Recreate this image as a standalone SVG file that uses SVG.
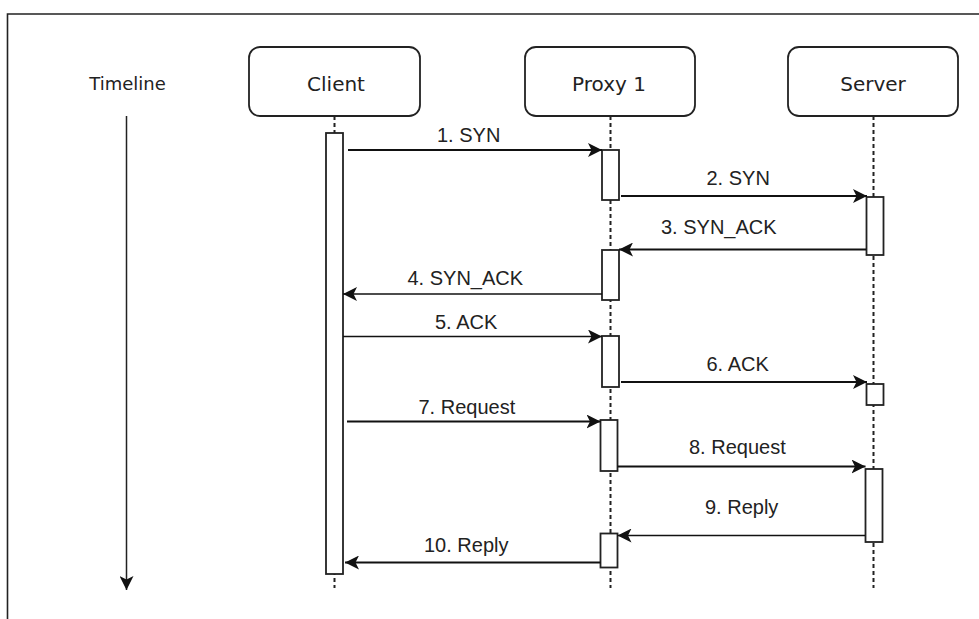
<svg xmlns="http://www.w3.org/2000/svg" width="979" height="619" viewBox="0 0 979 619">
<style>
.frame{fill:none;stroke:#222;stroke-width:1.6}
.node rect.box{fill:#fff;stroke:#222;stroke-width:1.8}
.node text{font-family:"DejaVu Sans",Verdana,sans-serif;font-size:20px;fill:#222;text-anchor:middle}
.life{stroke:#222;stroke-width:2;stroke-dasharray:4 3;fill:none}
.act{fill:#fff;stroke:#222;stroke-width:1.8}
.msg{fill:none;stroke:#111;stroke-width:1.8;marker-end:url(#arr)}
.thin{stroke-width:1.3}
.lbl{font-family:"Liberation Sans",Arial,sans-serif;font-size:20px;fill:#222}
.tl{font-family:"DejaVu Sans",Verdana,sans-serif;font-size:18px;fill:#222;text-anchor:middle}
</style>
<defs>
<marker id="arr" viewBox="0 0 14 14" refX="14" refY="7" markerWidth="14" markerHeight="14" markerUnits="userSpaceOnUse" orient="auto">
<path d="M0,0 L14,7 L0,14 L3.5,7 Z" fill="#111"/>
</marker>
</defs>
<rect width="979" height="619" fill="#fff"/>
<path class="frame" d="M7.5,619 V14 H979"/>

<g id="timeline">
<text class="tl" x="127.5" y="90">Timeline</text>
<line x1="126.5" y1="116" x2="126.5" y2="590" stroke="#222" stroke-width="1.5" marker-end="url(#arr)"/>
</g>

<g id="client" class="node">
<line class="life" x1="334.5" y1="116" x2="334.5" y2="588"/>
<rect class="box" x="249" y="47" width="171" height="69" rx="11"/>
<text x="336" y="91">Client</text>
<rect class="act" x="326" y="133" width="17" height="441"/>
</g>

<g id="proxy1" class="node">
<line class="life" x1="610.5" y1="116" x2="610.5" y2="588"/>
<rect class="box" x="525" y="47" width="170" height="69" rx="11"/>
<text x="609" y="91">Proxy 1</text>
<rect class="act" x="602" y="150" width="17" height="50"/>
<rect class="act" x="602" y="250" width="17" height="50"/>
<rect class="act" x="602" y="336" width="17" height="51"/>
<rect class="act" x="600.5" y="420" width="17" height="51"/>
<rect class="act" x="600.5" y="533.5" width="17" height="34"/>
</g>

<g id="server" class="node">
<line class="life" x1="873.5" y1="116" x2="873.5" y2="588"/>
<rect class="box" x="788" y="47" width="170" height="69" rx="11"/>
<text x="873" y="91">Server</text>
<rect class="act" x="866.5" y="197" width="17" height="58"/>
<rect class="act" x="866.5" y="384" width="17" height="21"/>
<rect class="act" x="865.5" y="469" width="17" height="73"/>
</g>

<g id="connectors">
<line class="msg" x1="348" y1="150" x2="602" y2="150"/>
<line class="msg" x1="621" y1="196" x2="867" y2="196"/>
<line class="msg" x1="866" y1="249.5" x2="619" y2="249.5"/>
<line class="msg thin" x1="602" y1="294" x2="343" y2="294"/>
<line class="msg thin" x1="343" y1="336.5" x2="602" y2="336.5"/>
<line class="msg" x1="621" y1="382" x2="867" y2="382"/>
<line class="msg" x1="347" y1="421.5" x2="600.5" y2="421.5"/>
<line class="msg" x1="617.5" y1="466.5" x2="865.5" y2="466.5"/>
<line class="msg thin" x1="865" y1="535.5" x2="617.5" y2="535.5"/>
<line class="msg" x1="600.5" y1="562.5" x2="345" y2="562.5"/>
</g>

<g id="labels">
<text class="lbl" x="437" y="142">1. SYN</text>
<text class="lbl" x="706.5" y="185">2. SYN</text>
<text class="lbl" x="661" y="234">3. SYN_ACK</text>
<text class="lbl" x="407.5" y="285">4. SYN_ACK</text>
<text class="lbl" x="435" y="329">5. ACK</text>
<text class="lbl" x="706.5" y="371">6. ACK</text>
<text class="lbl" x="418.5" y="413.5">7. Request</text>
<text class="lbl" x="689" y="454">8. Request</text>
<text class="lbl" x="705" y="514">9. Reply</text>
<text class="lbl" x="424" y="551.5">10. Reply</text>
</g>
</svg>
